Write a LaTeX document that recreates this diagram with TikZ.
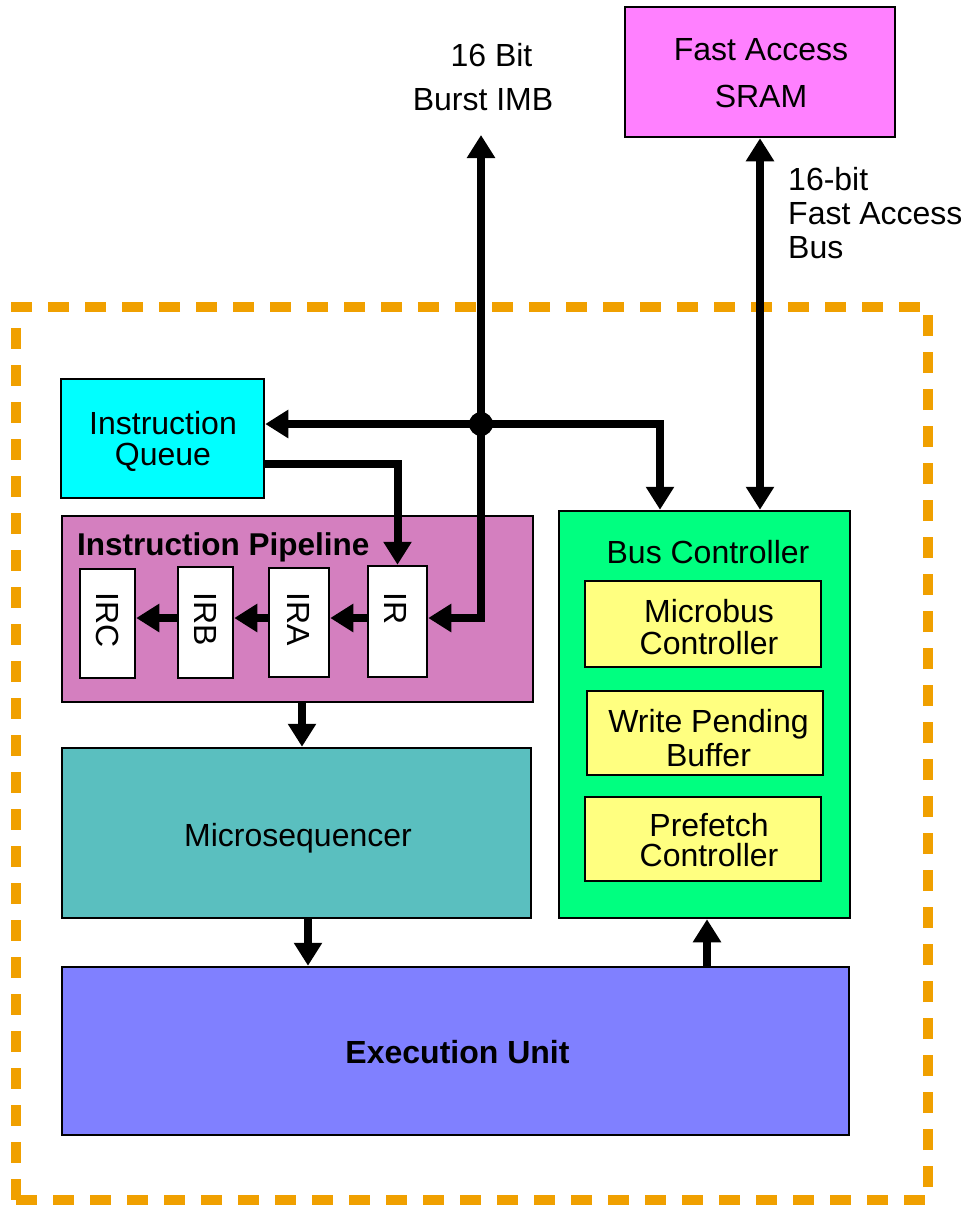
\documentclass[tikz,border=0pt]{standalone}
\usepackage{fontspec}
\setmainfont{Liberation Sans}
\usetikzlibrary{arrows.meta}
\definecolor{frameorange}{RGB}{240,160,0}
\definecolor{srampink}{RGB}{255,128,255}
\definecolor{queuecyan}{RGB}{0,255,255}
\definecolor{pipemauve}{RGB}{212,127,191}
\definecolor{seqteal}{RGB}{90,191,191}
\definecolor{busgreen}{RGB}{0,255,128}
\definecolor{unityellow}{RGB}{255,255,128}
\definecolor{execblue}{RGB}{128,128,255}
\begin{document}
\begin{tikzpicture}[x=1pt,y=-1pt,
  box/.style={draw=black, line width=2.5pt, inner sep=0pt},
  lbl/.style={inner sep=0pt, align=center, font=\fontsize{32}{32}\selectfont},
  reglbl/.style={inner sep=0pt, rotate=-90, anchor=west, font=\fontsize{32}{32}\selectfont},
  bus/.style={line width=8pt, -{Triangle[length=23pt,width=27pt]}},
  busboth/.style={line width=8pt, {Triangle[length=23pt,width=27pt]}-{Triangle[length=23pt,width=27pt]}},
]
\useasboundingbox (0,0) rectangle (961,1205);

% CPU boundary
\node[draw=frameorange, line width=10pt, dash pattern=on 21pt off 16pt,
  minimum width=912pt, minimum height=893pt, inner sep=0pt] (cpu) at (472,753.5) {};

% external memory and bus labels
\node[box, fill=srampink, minimum width=270pt, minimum height=130pt] (sram) at (760,72) {};
\node[lbl, font=\fontsize{32}{47}\selectfont] (sramtxt) at (761,73) {Fast Access\\SRAM};
\node[lbl, font=\fontsize{32}{44}\selectfont] (imblbl) at (483,77.5) {\hspace*{17pt}16 Bit\\Burst IMB};
\node[lbl, align=left, anchor=west, font=\fontsize{32}{34}\selectfont] (fablbl) at (788,213.5) {16-bit\\Fast Access\\Bus};

% instruction queue and pipeline
\node[box, fill=queuecyan, minimum width=203pt, minimum height=119pt] (iq) at (162.5,438.5) {};
\node[lbl, font=\fontsize{32}{31}\selectfont] (iqtxt) at (163,441) {Instruction\\Queue};
\node[box, fill=pipemauve, minimum width=471pt, minimum height=186pt] (pipe) at (297.5,609) {};
\node[lbl, anchor=base west, font=\fontsize{31.5}{32}\selectfont\bfseries] (pipelbl) at (77,555) {Instruction Pipeline};

\node[box, fill=white, minimum width=55pt, minimum height=109pt] (irc) at (107.5,623.5) {};
\node[box, fill=white, minimum width=55pt, minimum height=111pt] (irb) at (205.5,622.5) {};
\node[box, fill=white, minimum width=60pt, minimum height=109pt] (ira) at (299,622.5) {};
\node[box, fill=white, minimum width=59pt, minimum height=111pt] (ir) at (397.5,621.5) {};
\node[reglbl] (irclbl) at (107.5,592) {IRC};
\node[reglbl] (irblbl) at (205.5,592) {IRB};
\node[reglbl] (iralbl) at (299,592) {IRA};
\node[reglbl] (irlbl) at (396,592) {IR};

% sequencer and execution unit
\node[box, fill=seqteal, minimum width=469pt, minimum height=170pt] (mseq) at (296.5,833) {};
\node[lbl, anchor=base] (mseqtxt) at (298,846) {Microsequencer};
\node[box, fill=execblue, minimum width=787pt, minimum height=168pt] (exec) at (455.5,1051) {};
\node[lbl, anchor=base, font=\fontsize{32}{32}\selectfont\bfseries] (exectxt) at (457.5,1063) {Execution Unit};

% bus controller
\node[box, fill=busgreen, minimum width=291pt, minimum height=407pt] (bc) at (704.5,714.5) {};
\node[lbl, anchor=base] (bclbl) at (708,563) {Bus Controller};
\node[box, fill=unityellow, minimum width=236pt, minimum height=86pt] (mbc) at (703,624) {};
\node[lbl] (mbctxt) at (709,627) {Microbus\\Controller};
\node[box, fill=unityellow, minimum width=236pt, minimum height=84pt] (wpb) at (705,733) {};
\node[lbl, font=\fontsize{32}{34}\selectfont] (wpbtxt) at (708.5,738.5) {Write Pending\\Buffer};
\node[box, fill=unityellow, minimum width=236pt, minimum height=84pt] (pfc) at (703,839) {};
\node[lbl, font=\fontsize{32}{30}\selectfont] (pfctxt) at (709,840.5) {Prefetch\\Controller};

% routing coordinates
\coordinate (imbtip) at (481,135);
\coordinate (j) at (481,424);
\coordinate (row) at (0,618);
\coordinate (iqout) at (0,464);
\coordinate (bcin) at (660,0);
\coordinate (fab) at (760,0);
\coordinate (c1) at (302,0);
\coordinate (c2) at (308,0);
\coordinate (c3) at (707,0);

% connectors
\draw[busboth] (imbtip) -- (imbtip |- row) -- (ir.east |- row);
\draw[busboth] (iq.east |- j) -| (bc.north -| bcin);
\node[circle, fill=black, inner sep=0pt, minimum size=24pt] (jdot) at (j) {};
\draw[bus] (iq.east |- iqout) -| (ir.north);
\draw[bus] (ir.west |- row) -- (ira.east |- row);
\draw[bus] (ira.west |- row) -- (irb.east |- row);
\draw[bus] (irb.west |- row) -- (irc.east |- row);
\draw[busboth] (sram.south -| fab) -- (bc.north -| fab);
\draw[bus] (pipe.south -| c1) -- (mseq.north -| c1);
\draw[bus] (mseq.south -| c2) -- (exec.north -| c2);
\draw[bus] (exec.north -| c3) -- (bc.south -| c3);
\end{tikzpicture}
\end{document}
